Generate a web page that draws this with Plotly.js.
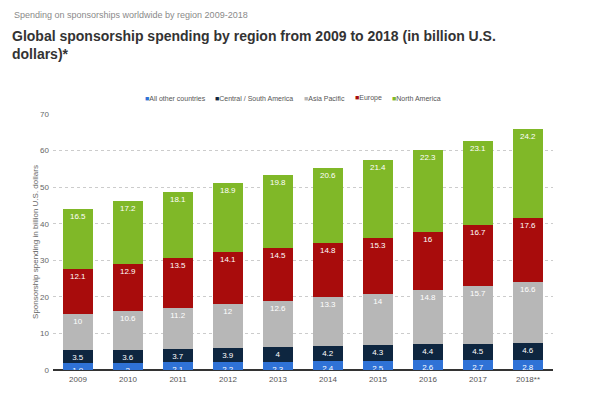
<!DOCTYPE html>
<html><head><meta charset="utf-8">
<script src="https://cdn.plot.ly/plotly-3.0.1.min.js"></script>
<style>html,body{margin:0;padding:0;background:#fff}#c{width:592px;height:398px}</style>
</head><body><div id="c"></div>
<script>
const years = ["2009","2010","2011","2012","2013","2014","2015","2016","2017","2018**"];
const allOther = [1.9,2,2.1,2.2,2.3,2.4,2.5,2.6,2.7,2.8];
const centralSouth = [3.5,3.6,3.7,3.9,4,4.2,4.3,4.4,4.5,4.6];
const asiaPacific = [10,10.6,11.2,12,12.6,13.3,14,14.8,15.7,16.6];
const europe = [12.1,12.9,13.5,14.1,14.5,14.8,15.3,16,16.7,17.6];
const northAmerica = [16.5,17.2,18.1,18.9,19.8,20.6,21.4,22.3,23.1,24.2];

const series = [
  {name:"All other countries", y:allOther, color:"#2f72d6", lx:143},
  {name:"Central / South America", y:centralSouth, color:"#0e2640", lx:213},
  {name:"Asia Pacific", y:asiaPacific, color:"#b7b7b7", lx:302},
  {name:"Europe", y:europe, color:"#a80c0c", lx:353},
  {name:"North America", y:northAmerica, color:"#80b828", lx:390}
];
const font = "Liberation Sans, Arial, sans-serif";
const data = series.map(s => ({
  type:"bar", name:s.name, x:years, y:s.y,
  marker:{color:s.color},
  text:s.y.map(v=>String(v)), textposition:"inside", insidetextanchor:"end", textangle:0,
  textfont:{color:"#ffffff", size:8, family:font}, constraintext:"none",
  hoverinfo:"skip", showlegend:false
}));
const W = 500, H = 256, L = 53, T = 114;
const annotations = [{text:"Spending on sponsorships worldwide by region 2009-2018", xref:"paper", yref:"paper",
    x:(12-L)/W, y:1+(T-15)/H, xanchor:"left", yanchor:"middle", showarrow:false,
    font:{size:9, color:"#8a8a8a", family:font}}];
series.forEach(s => annotations.push({
  text:'<span style="color:'+s.color+'">■</span>'+s.name, xref:"paper", yref:"paper",
  x:(s.lx-L)/W, y:1+(T-98)/H, xanchor:"left", yanchor:"middle", showarrow:false,
  font:{size:7, color:"#555", family:font}
}));
const layout = {
  width:592, height:398, barmode:"stack", bargap:0.4,
  margin:{l:L, r:592-L-W, t:T, b:398-T-H, autoexpand:false},
  paper_bgcolor:"#fff", plot_bgcolor:"#fff",
  font:{family:font, color:"#555", size:8},
  showlegend:false,
  title:{text:"<b>Global sponsorship spending by region from 2009 to 2018 (in billion U.S.<br>dollars)*</b>",
    x:12/592, xanchor:"left", xref:"container", y:1-41/398, yref:"container", yanchor:"top",
    font:{size:14, color:"#333", family:font}},
  annotations:annotations,
  xaxis:{type:"category", showgrid:false, ticks:"", tickfont:{size:8, color:"#555"}, showline:false, zeroline:false, tickangle:0, ticklabelstandoff:3},
  yaxis:{range:[0,70], dtick:10, showgrid:true, gridcolor:"#cccccc", griddash:"dot", gridwidth:1,
    zeroline:true, zerolinecolor:"#333", zerolinewidth:2, tickfont:{size:8, color:"#666"},
    ticklen:0, ticks:"", ticklabelstandoff:3,
    title:{text:"Sponsorship spending in billion U.S. dollars", font:{size:8, color:"#666"}, standoff:0}}
};
Plotly.newPlot("c", data, layout, {displayModeBar:false, staticPlot:true});
</script></body></html>
